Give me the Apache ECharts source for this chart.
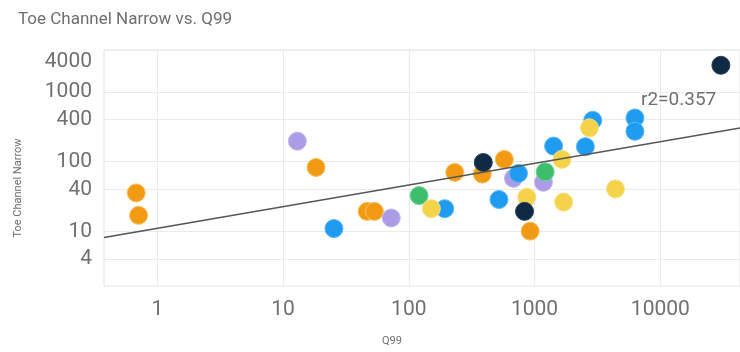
<!DOCTYPE html>
<html>
<head>
<meta charset="utf-8">
<script src="https://cdn.jsdelivr.net/npm/echarts@6/dist/echarts.min.js"></script>
<style>
  html, body { margin: 0; padding: 0; background: #fff; }
  #chart { width: 740px; height: 352px; }
</style>
</head>
<body>
<div id="chart"></div>
<script>
// Data (x = Q99, y = Toe Channel Narrow)
const orangePts = [[0.68, 35.7], [0.71, 17], [18.3, 82.8], [46.6, 19.4], [53.3, 19.4], [232, 70.3], [384, 66.5], [575, 108], [922, 10.1]];
const navyPts = [[391, 97.5], [832, 19.4], [30300, 2416]];
const purplePts = [[13, 197], [72.5, 15.6], [679, 57.8], [1177, 50.7]];
const greenPts = [[120.6, 32.7], [1214, 71.6]];
const bluePts = [[25.4, 11], [193, 21.2], [521, 28.7], [745, 68], [1416, 167.5], [2535, 164], [2900, 392], [6280, 424], [6280, 273]];
const yellowPts = [[151, 21.2], [867, 31], [1652, 108], [1702, 26.4], [2730, 306], [4400, 40.7]];
const trendPts = [[0.377, 8.2], [43000, 304]];
const xTicks = [1, 10, 100, 1000, 10000];
const yTicks = [4, 10, 40, 100, 400, 1000, 4000];
const r2Text = 'r2=0.357';

const chart = echarts.init(document.getElementById('chart'), null, { renderer: 'canvas' });

function scatter(name, data, color, border, z) {
  return {
    name: name, type: 'scatter', data: data, symbol: 'circle', symbolSize: 18, z: z,
    itemStyle: { color: color, borderColor: border, borderWidth: 1, opacity: 1 },
    emphasis: { disabled: true }
  };
}

chart.setOption({
  animation: false,
  backgroundColor: '#ffffff',
  textStyle: { fontFamily: 'Roboto' },
  title: [
    { text: 'Toe Channel Narrow vs. Q99', left: 13, top: 6,
      textStyle: { fontFamily: 'Roboto', fontSize: 17, fontWeight: 'normal', color: '#6f6f6f' } },
    { text: r2Text, left: 636, top: 86,
      textStyle: { fontFamily: 'Roboto', fontSize: 19, fontWeight: 'normal', color: '#707070' } }
  ],
  grid: { left: 104, right: 0, top: 50, bottom: 64, show: true, borderColor: '#e4e4e4', borderWidth: 1, containLabel: false },
  xAxis: {
    type: 'log', logBase: 10, min: 0.377, max: 43000,
    name: 'Q99', nameLocation: 'middle', nameGap: 50,
    nameTextStyle: { fontFamily: 'Roboto', fontSize: 11, color: '#707070', padding: [0, 60, 0, 0] },
    axisLine: { show: false },
    axisTick: { show: false, customValues: xTicks },
    axisLabel: { customValues: xTicks, fontFamily: 'Roboto', fontSize: 21, color: '#707070', margin: 13,
      formatter: v => String(v) },
    splitLine: { show: true, lineStyle: { color: '#ebebeb', width: 1 } }
  },
  yAxis: {
    type: 'log', logBase: 10, min: 1.65, max: 4000,
    name: 'Toe Channel Narrow', nameLocation: 'middle', nameGap: 80,
    nameTextStyle: { fontFamily: 'Roboto', fontSize: 11, color: '#707070', padding: [0, 40, 0, 0] },
    axisLine: { show: false },
    axisTick: { show: false, customValues: yTicks },
    axisLabel: { customValues: yTicks, fontFamily: 'Roboto', fontSize: 21, color: '#707070', margin: 12,
      formatter: v => (Math.round(v) === 4000 ? '{t|4000}' : String(Math.round(v))),
      rich: { t: { fontFamily: 'Roboto', fontSize: 21, color: '#707070', padding: [24, 0, 0, 0] } } },
    splitLine: { show: true, lineStyle: { color: '#ebebeb', width: 1 } }
  },
  series: [
    scatter('Orange', orangePts, '#f39a14', '#f7c25c', 3),
    scatter('Purple', purplePts, '#ab9ce6', '#c3b8ef', 3),
    scatter('Green', greenPts, '#3cbe6c', '#74d496', 3),
    scatter('Blue', bluePts, '#1f9cf0', '#5ab6f4', 3),
    scatter('Yellow', yellowPts, '#f4d24a', '#f8e084', 3),
    scatter('Navy', navyPts, '#0f2a44', '#28415a', 4),
    {
      name: 'Trend', type: 'line', data: trendPts, showSymbol: false, symbol: 'none', z: 5,
      lineStyle: { color: '#555555', width: 1.6 }, silent: true
    }
  ]
});
</script>
</body>
</html>
